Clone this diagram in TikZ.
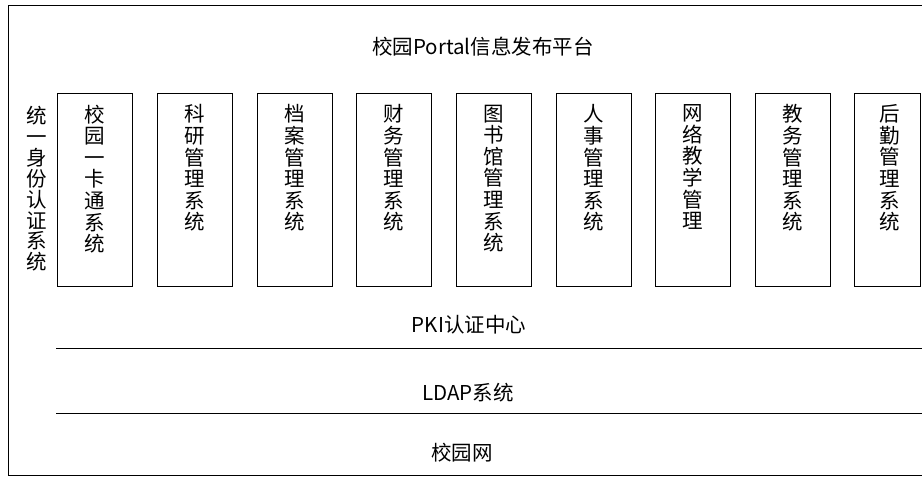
\documentclass[tikz,border=0pt]{standalone}
\usepackage{fontspec}
\setmainfont{Noto Sans CJK SC}
\begin{document}
\begin{tikzpicture}[x=1pt,y=-1pt,
  sysbox/.style={draw=black,line width=1pt,minimum width=75pt,minimum height=193pt,inner sep=0pt},
  vtext/.style={anchor=north,inner sep=0pt,align=center,font=\fontsize{20.5}{21.6}\selectfont},
  ltext/.style={inner sep=0pt,font=\fontsize{20.5}{24}\selectfont},
  frameline/.style={line width=1pt,black}]
\useasboundingbox (0,0) rectangle (922,477);
% outer frame (right side cut off)
\coordinate (ftr) at (923,5);
\coordinate (ftl) at (8,5);
\coordinate (fbl) at (8,475);
\coordinate (fbr) at (923,475);
\draw[frameline] (ftr) -- (ftl) -- (fbl) -- (fbr);
% title
\node[ltext] (title) at (483,47) {校园Portal信息发布平台};
% left vertical text
\node[vtext,font=\fontsize{20.5}{20.9}\selectfont] (uid) at (37,106) {统\\一\\身\\份\\认\\证\\系\\统};
% system boxes
\node[sysbox] (b1) at (95,189.5) {};
\node[sysbox] (b2) at (194.5,189.5) {};
\node[sysbox] (b3) at (294.5,189.5) {};
\node[sysbox] (b4) at (394,189.5) {};
\node[sysbox] (b5) at (493.5,189.5) {};
\node[sysbox] (b6) at (593.5,189.5) {};
\node[sysbox] (b7) at (693,189.5) {};
\node[sysbox] (b8) at (792.5,189.5) {};
\node[sysbox,minimum width=66pt] (b9) at (887,189.5) {};
\node[vtext] (t1) at ([yshift=-12pt]b1.north) {校\\园\\一\\卡\\通\\系\\统};
\node[vtext] (t2) at ([yshift=-12pt]b2.north) {科\\研\\管\\理\\系\\统};
\node[vtext] (t3) at ([yshift=-12pt]b3.north) {档\\案\\管\\理\\系\\统};
\node[vtext] (t4) at ([yshift=-12pt]b4.north) {财\\务\\管\\理\\系\\统};
\node[vtext] (t5) at ([yshift=-12pt]b5.north) {图\\书\\馆\\管\\理\\系\\统};
\node[vtext] (t6) at ([yshift=-12pt]b6.north) {人\\事\\管\\理\\系\\统};
\node[vtext] (t7) at ([yshift=-12pt]b7.north) {网\\络\\教\\学\\管\\理};
\node[vtext] (t8) at ([yshift=-12pt]b8.north) {教\\务\\管\\理\\系\\统};
\node[vtext] (t9) at ([xshift=3pt,yshift=-12pt]b9.north) {后\\勤\\管\\理\\系\\统};
% layers
\node[ltext] (pki) at (469,325) {PKI认证中心};
\coordinate (l1a) at (56,348);
\coordinate (l1b) at (923,348);
\draw[frameline] (l1a) -- (l1b);
\node[ltext] (ldap) at (468,393) {LDAP系统};
\coordinate (l2a) at (56,413);
\coordinate (l2b) at (923,413);
\draw[frameline] (l2a) -- (l2b);
\node[ltext] (net) at (462,453) {校园网};
\end{tikzpicture}
\end{document}
